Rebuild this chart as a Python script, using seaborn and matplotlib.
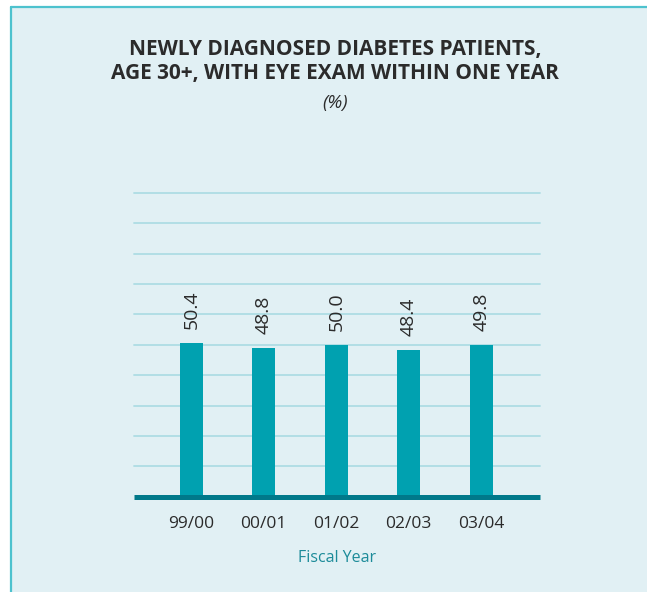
import matplotlib
matplotlib.use("Agg")
import matplotlib.pyplot as plt
import seaborn as sns
import pandas as pd
from matplotlib.patches import Rectangle
from matplotlib.lines import Line2D

years = ["99/00", "00/01", "01/02", "02/03", "03/04"]
rates = [50.4, 48.8, 50.0, 48.4, 49.8]

title_lines = ["NEWLY DIAGNOSED DIABETES PATIENTS,", "AGE 30+, WITH EYE EXAM WITHIN ONE YEAR"]
unit_label = "(%)"
x_label = "Fiscal Year"

panel_bg = "#e1f0f4"
border_col = "#4dc2ce"
grid_col = "#addde4"
bar_col = "#00a1b0"
base_col = "#00798a"
text_col = "#2b2b2b"
axis_title_col = "#1c8b99"

sns.set_style("white")
plt.rcParams["font.family"] = ["Open Sans", "DejaVu Sans"]

fig = plt.figure(figsize=(6.47, 5.92), dpi=100)
fig.patch.set_facecolor("white")

# background panel with left and top borders
W, H = 647, 592
fig.patches.append(Rectangle((11 / W, 0), 1 - 11 / W, 1 - 6.5 / H, transform=fig.transFigure,
                             facecolor=panel_bg, edgecolor="none", zorder=-3))
fig.lines.append(Line2D([11 / W, 11 / W], [0, 1 - 6.5 / H], transform=fig.transFigure,
                        color=border_col, lw=1.6, zorder=-2))
fig.lines.append(Line2D([11 / W, 1], [1 - 6.5 / H, 1 - 6.5 / H], transform=fig.transFigure,
                        color=border_col, lw=1.6, zorder=-2))

ax = fig.add_axes([134 / W, 95.3 / H, 406 / W, 304 / H])
ax.set_facecolor("none")

df = pd.DataFrame({"year": years, "rate": rates})
sns.barplot(data=df, x="year", y="rate", color=bar_col, saturation=1, width=0.32,
            linewidth=0, edgecolor="none", ax=ax, zorder=3)

ax.set_ylim(0, 100)
ax.set_xlim(-0.79, 4.81)
for gy in range(10, 101, 10):
    ax.axhline(gy, color=grid_col, lw=1.3, zorder=1, clip_on=False)
ax.axhline(0, color=base_col, lw=3.6, zorder=4, clip_on=False, solid_capstyle="butt")

for s in ax.spines.values():
    s.set_visible(False)
ax.set_yticks([])
ax.tick_params(axis="x", length=0, pad=14, labelsize=12.5, labelcolor=text_col)
ax.set_ylabel("")
ax.set_xlabel(x_label, fontsize=11.5, color=axis_title_col, labelpad=13)

for i, v in enumerate(rates):
    ax.annotate(f"{v:.1f}", (i, v), xytext=(0, 14), textcoords="offset pixels",
                rotation=90, ha="center", va="bottom", fontsize=14, color=text_col)

cx = 0.518
fig.text(cx, 1 - 50 / H, title_lines[0], ha="center", va="center", fontsize=15,
         fontweight="bold", color=text_col)
fig.text(cx, 1 - 74 / H, title_lines[1], ha="center", va="center", fontsize=15,
         fontweight="bold", color=text_col)
fig.text(cx, 1 - 103 / H, unit_label, ha="center", va="center", fontsize=13.5,
         style="italic", color=text_col)

fig.savefig("out.png", dpi=100, facecolor=fig.get_facecolor())
